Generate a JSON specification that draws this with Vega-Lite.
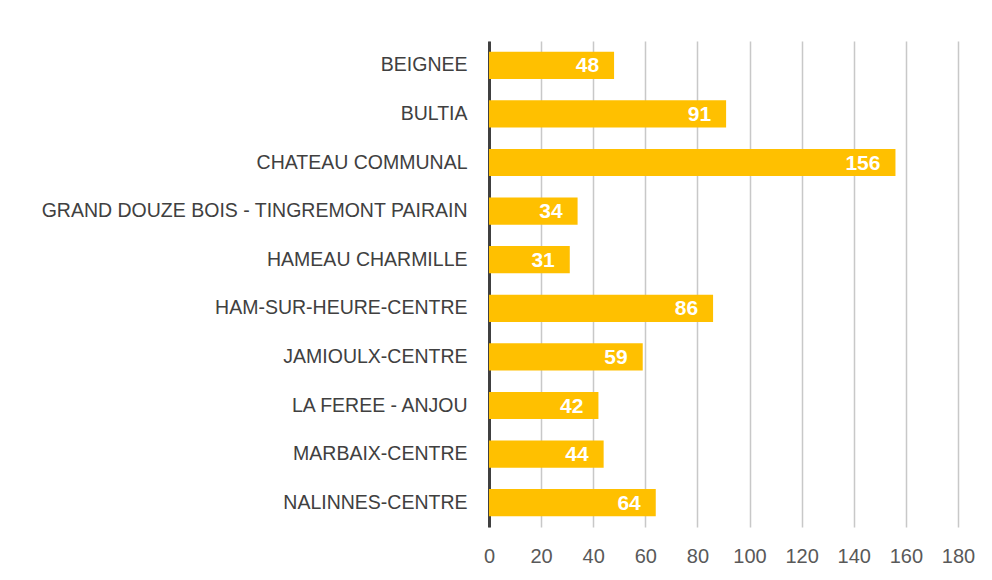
{
  "$schema": "https://vega.github.io/schema/vega-lite/v6.json",
  "autosize": "none",
  "width": 469,
  "height": 486,
  "padding": {"left": 489, "top": 41, "right": 34, "bottom": 53},
  "background": "white",
  "data": {"values": [
    {"site": "BEIGNEE", "n": 48},
    {"site": "BULTIA", "n": 91},
    {"site": "CHATEAU COMMUNAL", "n": 156},
    {"site": "GRAND DOUZE BOIS - TINGREMONT PAIRAIN", "n": 34},
    {"site": "HAMEAU CHARMILLE", "n": 31},
    {"site": "HAM-SUR-HEURE-CENTRE", "n": 86},
    {"site": "JAMIOULX-CENTRE", "n": 59},
    {"site": "LA FEREE - ANJOU", "n": 42},
    {"site": "MARBAIX-CENTRE", "n": 44},
    {"site": "NALINNES-CENTRE", "n": 64}
  ]},
  "encoding": {
    "y": {"field": "site", "type": "nominal", "sort": null, "title": null,
      "scale": {"paddingInner": 0.44, "paddingOuter": 0.22},
      "axis": {"domain": true, "domainColor": "#404040", "domainWidth": 3, "ticks": false,
        "labelFont": "Liberation Sans", "labelFontSize": 19.5, "labelColor": "#404040", "labelPadding": 22, "labelLimit": 480}},
    "x": {"field": "n", "type": "quantitative", "title": null,
      "scale": {"domain": [0, 180], "nice": false},
      "axis": {"values": [0,20,40,60,80,100,120,140,160,180], "domain": false, "ticks": false,
        "grid": true, "gridColor": "#c8c8c8", "gridWidth": 1.5, "labelFlush": false,
        "labelFont": "Liberation Sans", "labelFontSize": 20, "labelColor": "#595959", "labelPadding": 19}}
  },
  "layer": [
    {"mark": {"type": "bar", "color": "#FFC000"}},
    {"mark": {"type": "text", "align": "right", "baseline": "middle", "dx": -15, "dy": 1,
      "color": "white", "font": "Liberation Sans", "fontWeight": "bold", "fontSize": 21},
     "encoding": {"text": {"field": "n", "type": "quantitative"}}}
  ],
  "config": {"view": {"stroke": null}}
}
